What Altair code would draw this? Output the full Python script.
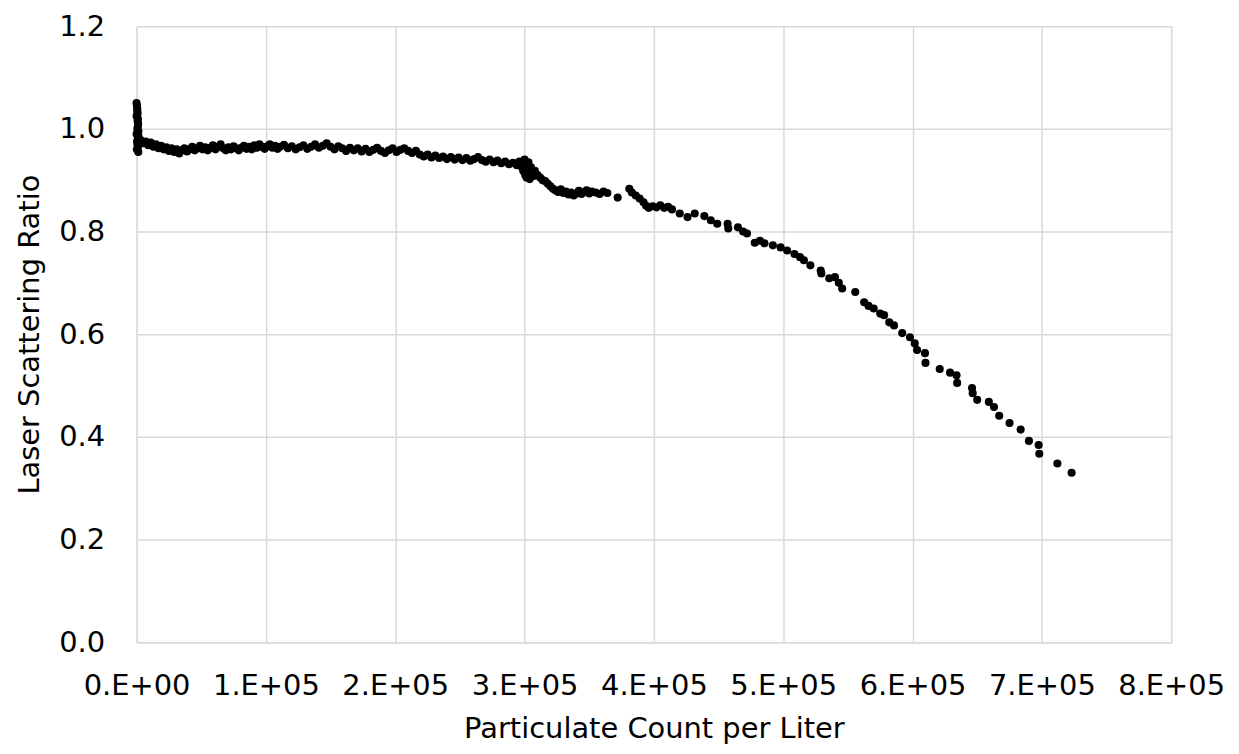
import altair as alt
import pandas as pd

# Particulate count per liter (x) and laser scattering ratio (y)
x_vals = [
    0, 300, 500, 800, 1000, 1200, 600, 0, 1500, 900, 400, 700, 1100, 200, 1300, 500, 0, 800, 1000, 1400,
    3000, 5000, 7000, 9000, 11000, 13000, 15000, 17000, 19000, 21000, 23000, 25000, 27000, 29000, 31000,
    33000, 35000, 37000, 39000, 41000, 43000, 45000, 47000, 49000, 51000, 53000, 55000, 57000, 59000,
    61000, 63000, 65000, 67000, 69000, 71000, 73000, 75000, 77000, 79000, 81000, 83000, 85000, 87000,
    89000, 91000, 93000, 95000, 97000, 99000, 101000, 103000, 105000, 107000, 109000, 111000, 114000,
    117000, 120000, 123000, 126000, 129000, 132000, 135000, 138000, 141000, 144000, 147000, 150000,
    153000, 156000, 159000, 162000, 165000, 168000, 171000, 174000, 177000, 180000, 183000, 186000,
    189000, 192000, 195000, 198000, 201000, 204000, 207000, 210000, 213000, 216000, 219000, 222000,
    225000, 228000, 231000, 234000, 237000, 240000, 243000, 246000, 249000, 252000, 255000, 258000,
    261000, 264000, 267000, 270000, 273000, 276000, 279000, 282000, 285000, 288000, 291000, 294000,
    296000, 298000, 299000, 300000, 300500, 301000, 301500, 302000, 303000, 303500, 304000, 305000,
    306000, 307000, 308000, 310000, 312000, 314000, 316000, 318000, 320000, 322000, 324000, 326000,
    328000, 330000, 332000, 334000, 336000, 338000, 340000, 342000, 344000, 346000, 348000, 350000,
    352000, 355000, 358000, 361000, 364000,
    372000, 381000, 383000, 386000, 389000, 392000, 394000, 396000, 399000, 402000, 405000, 408000,
    411000, 414000, 420000, 426000, 431600, 439000, 444000, 449000, 457000, 457500, 465000, 469000,
    472000, 478000, 482000, 485500, 492000, 498000, 503000, 508700, 513000, 516000, 521000, 529000,
    529500, 535600, 540000, 543000, 545600, 555700, 562600, 566000, 570000, 575000, 578000, 582000,
    585700, 592000, 598000, 601700, 603500, 609600, 610000, 621000, 629000, 634000, 634500, 646000,
    646500, 650000, 659000, 663000, 667000, 675000, 683600, 690000, 697500, 698000, 712000, 723000,
]
y_vals = [
    1.050, 1.045, 1.040, 1.030, 1.020, 1.010, 1.000, 0.990, 0.985, 0.980, 0.975, 0.970, 0.965, 0.960,
    0.955, 1.035, 1.025, 1.015, 1.005, 0.995,
    0.978, 0.972, 0.975, 0.968, 0.973, 0.965, 0.970, 0.962, 0.967, 0.960, 0.964, 0.957, 0.962, 0.955,
    0.960, 0.952, 0.958, 0.962, 0.956, 0.960, 0.965, 0.958, 0.962, 0.967, 0.960, 0.964, 0.958, 0.963,
    0.968, 0.960, 0.965, 0.970, 0.962, 0.958, 0.964, 0.960, 0.966, 0.962, 0.958, 0.963, 0.967, 0.961,
    0.965, 0.960, 0.968, 0.963, 0.970, 0.965, 0.961, 0.966, 0.970, 0.963, 0.967, 0.961, 0.965, 0.969,
    0.962, 0.966, 0.960, 0.964, 0.968, 0.961, 0.965, 0.970, 0.963, 0.967, 0.972, 0.965,
    0.960, 0.966, 0.962, 0.957, 0.963, 0.958, 0.962, 0.956, 0.961, 0.955, 0.959, 0.963,
    0.957, 0.953, 0.958, 0.962, 0.955, 0.959, 0.962, 0.957, 0.953, 0.957, 0.950, 0.946,
    0.950, 0.944, 0.948, 0.943, 0.946, 0.941, 0.945, 0.940, 0.944, 0.939, 0.943, 0.938,
    0.941, 0.945, 0.939, 0.936, 0.940, 0.935, 0.938, 0.933, 0.936, 0.931, 0.934, 0.929,
    0.936, 0.925, 0.918, 0.940, 0.910, 0.930, 0.905, 0.920, 0.935, 0.912, 0.902, 0.925,
    0.915, 0.908, 0.918, 0.910, 0.905, 0.900, 0.898, 0.893, 0.888, 0.883, 0.880, 0.877,
    0.882, 0.875, 0.878, 0.872, 0.876, 0.870, 0.874, 0.879, 0.873, 0.877, 0.880, 0.874,
    0.878, 0.876, 0.873, 0.878, 0.875,
    0.866, 0.883, 0.876, 0.870, 0.864, 0.857, 0.850, 0.846, 0.849, 0.847, 0.851, 0.846,
    0.848, 0.843, 0.835, 0.828, 0.835, 0.830, 0.822, 0.815, 0.815, 0.806, 0.808, 0.800,
    0.796, 0.778, 0.782, 0.777, 0.773, 0.769, 0.763, 0.756, 0.750, 0.744, 0.734, 0.724,
    0.718, 0.709, 0.711, 0.700, 0.689, 0.682, 0.662, 0.655, 0.650, 0.640, 0.637, 0.623,
    0.617, 0.602, 0.594, 0.582, 0.569, 0.563, 0.544, 0.532, 0.525, 0.520, 0.505, 0.495,
    0.485, 0.472, 0.468, 0.458, 0.441, 0.427, 0.414, 0.392, 0.384, 0.367, 0.348, 0.330,
]
x_ticks = [0, 100000, 200000, 300000, 400000, 500000, 600000, 700000, 800000]
y_ticks = [0.0, 0.2, 0.4, 0.6, 0.8, 1.0, 1.2]

df = pd.DataFrame({"count": x_vals, "ratio": y_vals})

FONT = "DejaVu Sans"
GRID = "#d9d9d9"

chart = (
    alt.Chart(df)
    .mark_circle(size=66, color="black", opacity=1)
    .encode(
        x=alt.X(
            "count:Q",
            scale=alt.Scale(domain=[0, 800000], nice=False, zero=True),
            axis=alt.Axis(
                title="Particulate Count per Liter",
                values=x_ticks,
                labelExpr="datum.value == 0 ? '0.E+00' : round(datum.value / 100000) + '.E+05'",
                grid=True,
                gridColor=GRID,
                gridWidth=1.5,
                domainColor=GRID,
                domainWidth=1.5,
                ticks=False,
                labelFont=FONT,
                labelFontSize=29,
                labelColor="black",
                labelPadding=30,
                labelFlush=False,
                labelOverlap=False,
                titleFont=FONT,
                titleFontSize=29,
                titleFontWeight="normal",
                titleColor="black",
                titlePadding=14,
            ),
        ),
        y=alt.Y(
            "ratio:Q",
            scale=alt.Scale(domain=[0, 1.2], nice=False),
            axis=alt.Axis(
                title="Laser Scattering Ratio",
                values=y_ticks,
                format=".1f",
                grid=True,
                gridColor=GRID,
                gridWidth=1.5,
                domain=False,
                ticks=False,
                labelFont=FONT,
                labelFontSize=29,
                labelColor="black",
                labelPadding=32,
                labelFlush=False,
                labelOverlap=False,
                titleFont=FONT,
                titleFontSize=29,
                titleFontWeight="normal",
                titleColor="black",
                titlePadding=14,
            ),
        ),
    )
    .properties(
        width=1038,
        height=618,
        autosize=alt.AutoSizeParams(type="none"),
        padding={"left": 129, "top": 17, "right": 60, "bottom": 103},
    )
    .configure_view(stroke=None)
    .configure(background="white")
)

chart.save("out.html", embed_options={"renderer": "svg", "actions": False})
